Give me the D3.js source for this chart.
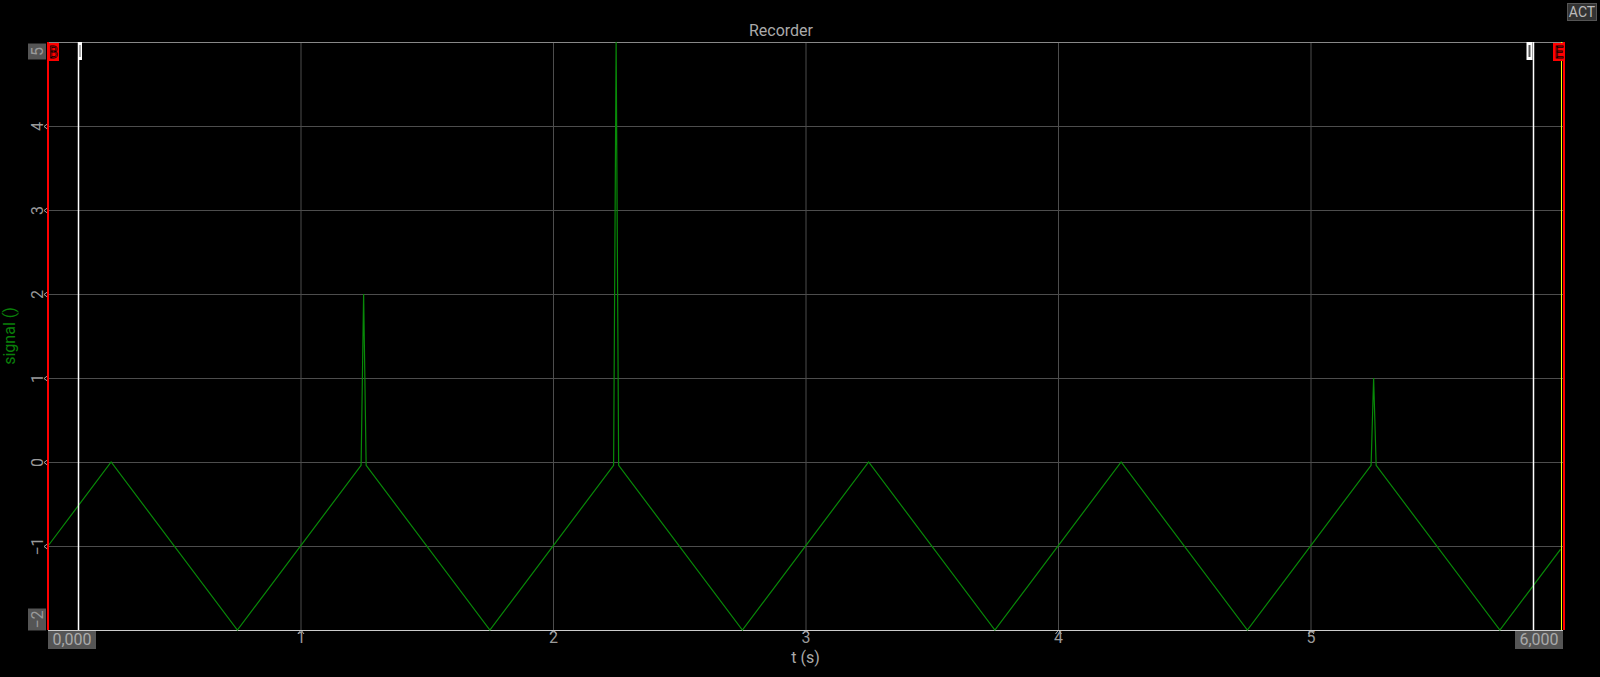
<!DOCTYPE html>
<html>
<head>
<meta charset="utf-8">
<script src="https://cdn.jsdelivr.net/npm/d3@7"></script>
<style>
  html, body { margin: 0; padding: 0; background: #000; }
  svg { display: block; font-family: Roboto, "Liberation Sans", sans-serif; }
</style>
</head>
<body>
<svg id="chart" width="1600" height="677"></svg>
<script>
// ----------------------------------------------------------------------------
// Data
// ----------------------------------------------------------------------------

// time samples (s) at the triangle corners and around the spikes
var timeVals = [0, 0.25, 0.75, 1.24, 1.25, 1.26, 1.75, 2.24, 2.25, 2.26, 2.75,
                3.25, 3.75, 4.25, 4.75, 5.24, 5.25, 5.26, 5.75, 5.99];
// signal value at each sample
var signalVals = [-1, 0, -2, -0.04, 2, -0.04, -2, -0.04, 5, -0.04, -2,
                  0, -2, 0, -2, -0.04, 1, -0.04, -2, -1.04];

var xTicks = [1, 2, 3, 4, 5];
var yTicks = [-2, -1, 0, 1, 2, 3, 4, 5];
var xRangeLabels = ["0,000", "6,000"];
var cursorTimes = [0.12, 5.88];

// ----------------------------------------------------------------------------
// Layout
// ----------------------------------------------------------------------------

var svg = d3.select("#chart");
var plotLeft = 48, plotRight = 1563, plotTop = 42, plotBottom = 630;
var plotW = plotRight - plotLeft, plotH = plotBottom - plotTop;

var x = d3.scaleLinear().domain([0, 6]).range([plotLeft, plotRight]);
var y = d3.scaleLinear().domain([-2, 5]).range([plotBottom, plotTop]);

// Title
svg.append("text")
    .attr("x", 781).attr("y", 36)
    .attr("text-anchor", "middle")
    .attr("fill", "#aaa").attr("font-size", 16)
    .text("Recorder");

// ACT badge
svg.append("rect")
    .attr("x", 1567.5).attr("y", 3.5).attr("width", 29).attr("height", 17)
    .attr("fill", "#333").attr("stroke", "#555");
svg.append("text")
    .attr("x", 1582).attr("y", 17)
    .attr("text-anchor", "middle")
    .attr("fill", "#bbb").attr("font-size", 14)
    .text("ACT");

// Horizontal grid + y labels
var yAxis = svg.append("g")
    .attr("transform", "translate(" + plotLeft + ",0)")
    .call(d3.axisLeft(y).tickValues(yTicks).tickSize(-plotW).tickFormat(d3.format("d")));
yAxis.select(".domain").remove();
yAxis.selectAll(".tick line")
    .attr("stroke", function(d) { return d === 5 ? "#888" : (d === -2 ? "#ccc" : "#4d4d4d"); });

yAxis.selectAll(".tick").each(function(d) {
    var g = d3.select(this);
    var shift = d === 5 ? 9 : (d === -2 ? -11 : 0);
    if (d === 5 || d === -2) {
        var h = d === 5 ? 16 : 22;
        g.insert("rect", "text")
            .attr("x", -20).attr("y", shift - h / 2)
            .attr("width", 18).attr("height", h)
            .attr("fill", "#555");
    } else {
        // little chevron tick mark
        g.append("path")
            .attr("d", "M0,-3L-4,0L0,3")
            .attr("fill", "none").attr("stroke", "#aaa");
    }
    g.select("text")
        .attr("x", 0).attr("dy", null)
        .attr("text-anchor", "middle")
        .attr("transform", "translate(-5," + shift + ") rotate(-90)")
        .attr("fill", "#9a9a9a").attr("font-size", 16)
        .style("font-family", "Roboto, sans-serif");
});

// Vertical grid + x labels
var xAxis = svg.append("g")
    .attr("transform", "translate(0," + plotBottom + ")")
    .call(d3.axisBottom(x).tickValues(xTicks).tickSize(-plotH).tickPadding(2).tickFormat(d3.format("d")));
xAxis.select(".domain").remove();
xAxis.selectAll(".tick line").attr("stroke", "#4d4d4d");
xAxis.selectAll(".tick").append("path")
    .attr("d", "M-3,4L0,0L3,4")
    .attr("fill", "none").attr("stroke", "#aaa");
xAxis.selectAll(".tick text")
    .attr("fill", "#9a9a9a").attr("font-size", 16)
    .style("font-family", "Roboto, sans-serif");

// Top border and bottom axis line
svg.append("line")
    .attr("x1", plotLeft).attr("x2", plotRight).attr("y1", plotTop + 0.5).attr("y2", plotTop + 0.5)
    .attr("stroke", "#888");
svg.append("line")
    .attr("x1", plotLeft).attr("x2", plotRight).attr("y1", plotBottom + 0.5).attr("y2", plotBottom + 0.5)
    .attr("stroke", "#ccc");

// x range end labels
xRangeLabels.forEach(function(lbl, i) {
    var cx = i === 0 ? x(0) + 24 : x(6) - 24;
    svg.append("rect")
        .attr("x", cx - 24).attr("y", 631).attr("width", 48).attr("height", 18)
        .attr("fill", "#555");
    svg.append("text")
        .attr("x", cx).attr("y", 645)
        .attr("text-anchor", "middle")
        .attr("fill", "#aaa").attr("font-size", 16)
        .text(lbl);
});

// Axis titles
svg.append("text")
    .attr("x", x(3)).attr("y", 663)
    .attr("text-anchor", "middle")
    .attr("fill", "#aaa").attr("font-size", 16)
    .text("t (s)");
svg.append("text")
    .attr("transform", "translate(15," + (plotTop + plotBottom) / 2 + ") rotate(-90)")
    .attr("text-anchor", "middle")
    .attr("fill", "#0a800a").attr("font-size", 16)
    .text("signal ()");

// Signal trace
var signalData = timeVals.map(function(t, i) { return {t: t, v: signalVals[i]}; });
var line = d3.line()
    .x(function(d) { return x(d.t); })
    .y(function(d) { return y(d.v); });
svg.append("path")
    .datum(signalData)
    .attr("d", line)
    .attr("fill", "none")
    .attr("stroke", "#088a08")
    .attr("stroke-width", 1.2);

// Cursor lines and their handles
cursorTimes.forEach(function(t, i) {
    var cx = Math.round(x(t)) + 0.5;
    svg.append("line")
        .attr("x1", cx).attr("x2", cx).attr("y1", plotTop).attr("y2", plotBottom)
        .attr("stroke", "#fff").attr("stroke-width", 1.5);
    var w = i === 0 ? 4 : 6;
    var rx = i === 0 ? cx - 0.5 : cx - 7;
    svg.append("rect")
        .attr("x", rx).attr("y", plotTop).attr("width", w).attr("height", 18)
        .attr("fill", "#fff");
    svg.append("line")
        .attr("x1", rx + w / 2).attr("x2", rx + w / 2).attr("y1", plotTop + 3).attr("y2", plotTop + 15)
        .attr("stroke", "#555").attr("stroke-width", i === 0 ? 1 : 2);
});

// Begin / end frame lines
svg.append("line")
    .attr("x1", plotLeft).attr("x2", plotLeft).attr("y1", plotTop).attr("y2", plotBottom)
    .attr("stroke", "#f00").attr("stroke-width", 2);
svg.append("line")
    .attr("x1", plotRight - 1.5).attr("x2", plotRight - 1.5).attr("y1", plotTop).attr("y2", plotBottom)
    .attr("stroke", "#ff0").attr("stroke-width", 1);
svg.append("line")
    .attr("x1", plotRight + 1).attr("x2", plotRight + 1).attr("y1", plotTop).attr("y2", plotBottom)
    .attr("stroke", "#f00").attr("stroke-width", 2);

// B / E markers
[["B", plotLeft, 11], ["E", 1553, 12]].forEach(function(m) {
    svg.append("rect")
        .attr("x", m[1]).attr("y", plotTop + 1).attr("width", m[2]).attr("height", 18)
        .attr("fill", "#f00");
    svg.append("text")
        .attr("x", m[1] + m[2] / 2).attr("y", plotTop + 16)
        .attr("text-anchor", "middle")
        .attr("fill", "#f00").attr("stroke", "#000").attr("stroke-width", 0.8)
        .attr("font-size", 17)
        .attr("textLength", 9).attr("lengthAdjust", "spacingAndGlyphs")
        .text(m[0]);
});
</script>
</body>
</html>
